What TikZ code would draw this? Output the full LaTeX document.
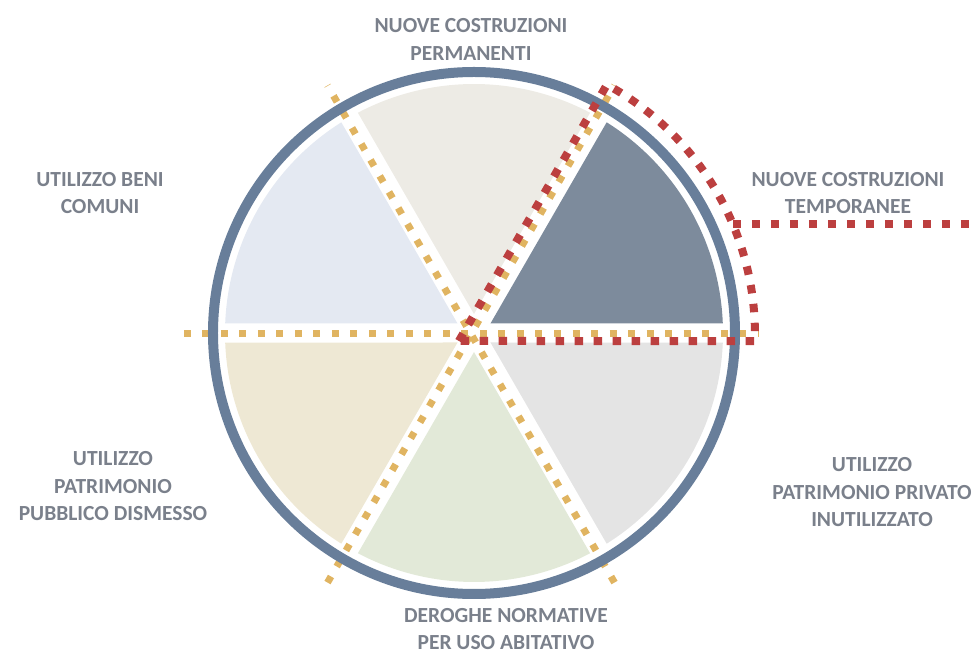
\documentclass[tikz,border=0pt]{standalone}
\usepackage{fontspec}
\setmainfont{Carlito}
\usetikzlibrary{calc}
\definecolor{ringc}{HTML}{687E9A}
\definecolor{secA}{HTML}{7D8B9C}
\definecolor{secB}{HTML}{EDEBE5}
\definecolor{secC}{HTML}{E4E9F2}
\definecolor{secD}{HTML}{EEE8D4}
\definecolor{secE}{HTML}{E2E9D8}
\definecolor{secF}{HTML}{E4E4E4}
\definecolor{dotY}{HTML}{E0B461}
\definecolor{dotR}{HTML}{BC3F3F}
\definecolor{txtc}{HTML}{7A808B}
\tikzset{
  ydots/.style={draw=dotY, line width=7pt, dash pattern=on 7pt off 11.5pt},
  rdots/.style={draw=dotR, line width=8pt, dash pattern=on 8.5pt off 10.5pt},
  ring/.style={draw=ringc, line width=10pt},
  lbl/.style={text=txtc, align=center, inner sep=0pt, font=\fontsize{21.5}{27.5}\selectfont\bfseries}
}
\begin{document}
\begin{tikzpicture}[x=1pt,y=1pt]
\useasboundingbox (-474,-322) rectangle (498,333);
% sectors
\foreach \a/\c in {0/secA,60/secB,120/secC,180/secD,240/secE,300/secF}{
  \fill[\c] ({\a+30}:19pt) -- ({\a+2.2}:249pt)
     arc[start angle={\a+2.2}, end angle={\a+57.8}, radius=249pt] -- cycle;
}
% yellow dotted lines
\coordinate (d) at (-3,-1);
\foreach \a in {0,60,120}{
  \draw[ydots] ($(d)+({\a+180}:287pt)$) -- ($(d)+(\a:287pt)$);
}
% ring
\draw[ring] (0,0) circle[radius=261pt];
% red outline of the dark sector
\coordinate (ra) at (-15.1,-8);
\draw[rdots] (ra) -- (132.9,248.3) arc[start angle=61.4, end angle=-1.41, radius=284pt] -- cycle;
\coordinate (rs) at (258.8,109);
\coordinate (re) at (498,109);
\draw[rdots] (rs) -- (re);
% labels
\node[lbl] (perm) at (-3,293.5) {NUOVE COSTRUZIONI\\PERMANENTI};
\node[lbl] (temp) at (374,140) {NUOVE COSTRUZIONI\\TEMPORANEE};
\node[lbl] (beni) at (-374,140) {UTILIZZO BENI\\COMUNI};
\node[lbl] (pubb) at (-361,-153.5) {UTILIZZO\\PATRIMONIO\\PUBBLICO DISMESSO};
\node[lbl] (priv) at (398,-159.5) {UTILIZZO\\PATRIMONIO PRIVATO\\INUTILIZZATO};
\node[lbl] (dero) at (32,-296) {DEROGHE NORMATIVE\\PER USO ABITATIVO};
\end{tikzpicture}
\end{document}
